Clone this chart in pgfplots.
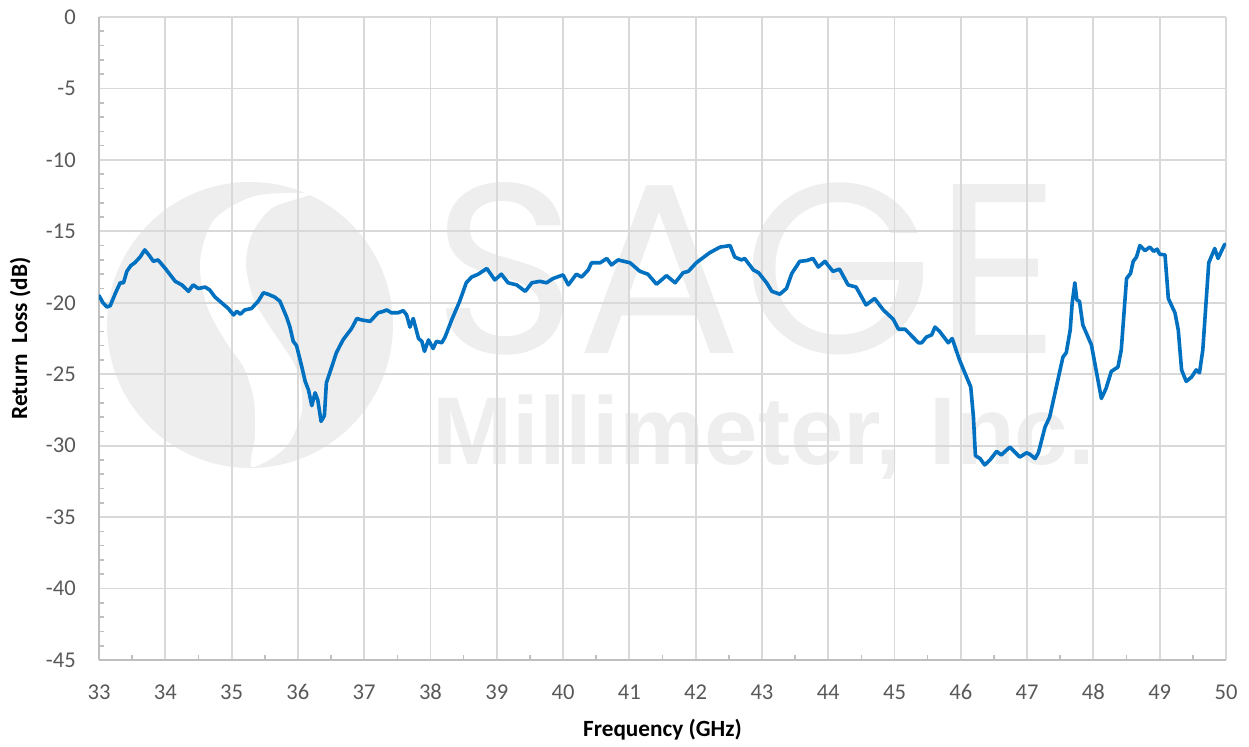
\documentclass[border=0pt]{standalone}
\usepackage{fontspec}
\setmainfont{Carlito}
\newfontfamily\sagefont{Poppins}
\newfontfamily\millfont{Liberation Sans}
\usepackage{graphicx}
\usepackage{pgfplots}
\pgfplotsset{compat=1.18}
\definecolor{rlblue}{HTML}{0070C0}
\definecolor{gridgray}{HTML}{D9D9D9}
\definecolor{axisgray}{HTML}{BFBFBF}
\definecolor{labelgray}{HTML}{595959}
\definecolor{wmgray}{HTML}{EEEEEE}

\begin{document}
\begin{tikzpicture}
\path[use as bounding box] (-74.25bp,-65.25bp) rectangle (862.5bp,495bp);

% watermark (logo + company name), drawn in reference pixel units
\begin{scope}[x=0.75bp, y=-0.75bp, shift={(-74.25bp,495bp)}]
  \fill[wmgray] (250,325) circle (143);
  \fill[white] plot[smooth cycle, tension=0.5] coordinates {
    (310,194) (272,208) (252,234) (246,265) (254,300) (272,330) (297,370)
    (302,410) (286,447) (252,467)
    (255,436) (254,400) (244,368) (226,342) (207,306) (200,262)
    (214,220) (255,196)};
  \node[anchor=south west, inner sep=0pt, text=wmgray] at (432,355)
    {\resizebox{471bp}{128bp}{\sagefont SAGE}};
  \node[anchor=base west, inner sep=0pt, text=wmgray] at (432,465)
    {\resizebox{497bp}{!}{\millfont\bfseries Millimeter, Inc.}};
\end{scope}

\begin{axis}[
  at={(0,0)}, anchor=south west, scale only axis,
  width=845.25bp, height=482.25bp,
  xmin=33, xmax=50, ymin=-45, ymax=0,
  xtick={33,34,...,50}, ytick={-45,-40,...,0},
  minor x tick num=1, minor y tick num=4,
  axis lines*=left,
  axis line style={-, axisgray, line width=1.5bp},
  tick align=inside,
  major tick length=0pt, minor tick length=4bp,
  minor tick style={axisgray, line width=1.2bp},
  grid=major,
  major grid style={gridgray, line width=1.4bp},
  /pgf/number format/assume math mode=true,
  ticklabel style={font=\fontsize{17}{17}\selectfont, text=labelgray},
  xticklabel style={anchor=center, inner sep=0pt, yshift=-24bp},
  yticklabel style={anchor=east, inner sep=0pt, xshift=-17.25bp},
  xlabel={Frequency (GHz)},
  ylabel={Return\ \ Loss (dB)},
  every axis x label/.style={at={(rel axis cs:0.5,-0.1089)}, anchor=center,
    font=\bfseries\fontsize{17.5}{17.5}\selectfont, text=black},
  every axis y label/.style={at={(rel axis cs:-0.0698,0.5)}, anchor=center, rotate=90,
    font=\bfseries\fontsize{17.5}{17.5}\selectfont, text=black},
]
\addplot[rlblue, line width=2.7bp, line join=round, line cap=round, no markers] coordinates {
(33.00,-19.5) (33.06,-20.0) (33.12,-20.3) (33.17,-20.2) (33.25,-19.3)
(33.32,-18.6) (33.37,-18.6) (33.42,-17.8) (33.48,-17.4) (33.54,-17.2)
(33.62,-16.8) (33.69,-16.3) (33.76,-16.7) (33.82,-17.1) (33.89,-17.0)
(34.00,-17.6) (34.15,-18.5) (34.25,-18.75) (34.35,-19.2) (34.42,-18.75)
(34.50,-19.0) (34.60,-18.9) (34.67,-19.1) (34.75,-19.6) (34.85,-20.0)
(34.95,-20.4) (35.03,-20.85) (35.08,-20.6) (35.13,-20.8) (35.20,-20.5)
(35.30,-20.4) (35.40,-19.9) (35.48,-19.3) (35.55,-19.4) (35.65,-19.6)
(35.73,-19.9) (35.83,-21.0) (35.88,-21.7) (35.93,-22.7) (35.98,-23.0)
(36.06,-24.5) (36.11,-25.5) (36.16,-26.1) (36.21,-27.2) (36.26,-26.3)
(36.30,-26.8) (36.35,-28.3) (36.40,-27.9) (36.43,-25.6) (36.51,-24.5)
(36.58,-23.5) (36.68,-22.6) (36.81,-21.8) (36.89,-21.1) (36.96,-21.2)
(37.09,-21.3) (37.21,-20.7) (37.29,-20.6) (37.34,-20.5) (37.41,-20.7)
(37.51,-20.7) (37.59,-20.55) (37.64,-20.85) (37.69,-21.7) (37.74,-21.1)
(37.82,-22.5) (37.87,-22.7) (37.91,-23.4) (37.97,-22.6) (38.04,-23.2)
(38.09,-22.7) (38.17,-22.8) (38.22,-22.4) (38.32,-21.2) (38.44,-19.9)
(38.54,-18.6) (38.62,-18.2) (38.72,-18.0) (38.85,-17.6) (38.97,-18.4)
(39.07,-18.0) (39.17,-18.6) (39.30,-18.75) (39.43,-19.2) (39.53,-18.6)
(39.65,-18.5) (39.75,-18.6) (39.85,-18.3) (40.00,-18.05) (40.08,-18.75)
(40.20,-18.0) (40.28,-18.2) (40.38,-17.7) (40.43,-17.2) (40.56,-17.2)
(40.66,-16.9) (40.73,-17.35) (40.83,-17.0) (41.01,-17.2) (41.16,-17.8)
(41.28,-18.0) (41.41,-18.7) (41.56,-18.1) (41.69,-18.6) (41.81,-17.9)
(41.89,-17.8) (42.01,-17.2) (42.21,-16.5) (42.37,-16.1) (42.52,-16.0)
(42.59,-16.8) (42.69,-17.0) (42.74,-16.9) (42.87,-17.7) (42.95,-17.9)
(43.07,-18.6) (43.15,-19.2) (43.27,-19.4) (43.37,-19.0) (43.45,-17.95)
(43.57,-17.1) (43.67,-17.05) (43.77,-16.9) (43.85,-17.5) (43.95,-17.1)
(44.07,-17.8) (44.17,-17.65) (44.30,-18.75) (44.42,-18.9) (44.57,-20.15)
(44.70,-19.7) (44.83,-20.5) (44.98,-21.15) (45.06,-21.85) (45.16,-21.85)
(45.36,-22.8) (45.41,-22.8) (45.48,-22.4) (45.56,-22.25) (45.61,-21.7)
(45.68,-22.0) (45.81,-22.8) (45.87,-22.5) (45.98,-24.0) (46.06,-24.9)
(46.15,-25.9) (46.19,-28.0) (46.22,-30.7) (46.29,-30.9) (46.36,-31.35)
(46.44,-31.0) (46.54,-30.4) (46.61,-30.65) (46.74,-30.1) (46.89,-30.8)
(46.99,-30.5) (47.04,-30.6) (47.12,-30.9) (47.17,-30.5) (47.27,-28.7)
(47.34,-28.0) (47.44,-25.9) (47.54,-23.8) (47.59,-23.5) (47.65,-21.9)
(47.68,-20.0) (47.72,-18.6) (47.75,-19.8) (47.79,-19.9) (47.84,-21.55)
(47.97,-22.95) (48.04,-24.7) (48.12,-26.7) (48.19,-26.0) (48.27,-24.8)
(48.37,-24.5) (48.42,-23.3) (48.50,-18.3) (48.56,-17.95) (48.60,-17.1)
(48.65,-16.8) (48.70,-16.0) (48.78,-16.35) (48.85,-16.1) (48.91,-16.4)
(48.96,-16.25) (49.00,-16.6) (49.08,-16.65) (49.13,-19.7) (49.23,-20.7)
(49.28,-21.9) (49.33,-24.7) (49.40,-25.5) (49.48,-25.2) (49.55,-24.7)
(49.60,-24.9) (49.65,-23.3) (49.74,-17.2) (49.83,-16.2) (49.88,-16.9)
(49.98,-15.9)
};
\end{axis}
\end{tikzpicture}
\end{document}
